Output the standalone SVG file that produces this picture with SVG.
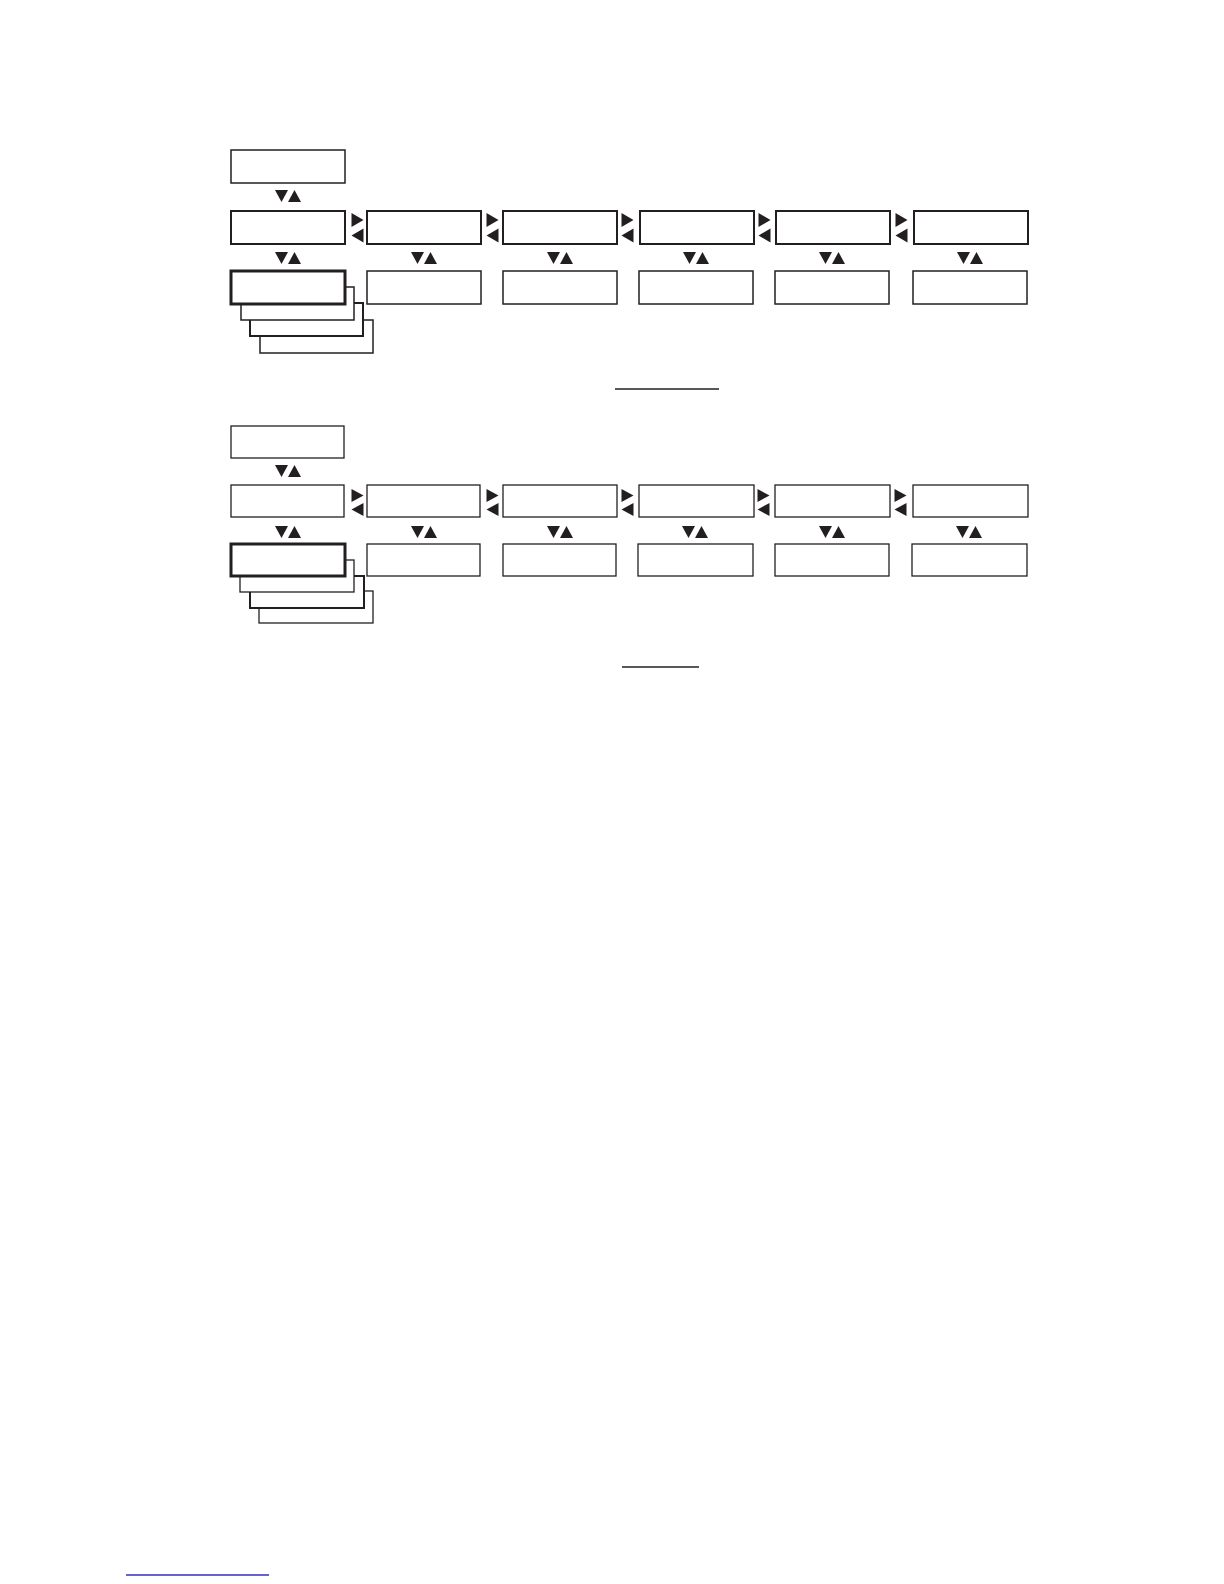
<svg xmlns="http://www.w3.org/2000/svg" xmlns:xlink="http://www.w3.org/1999/xlink" width="1224" height="1584" viewBox="0 0 1224 1584">
<style>
.b{fill:#fff;stroke:#231f20;stroke-width:1.5}
.b2{fill:#fff;stroke:#231f20;stroke-width:2}
.bt{fill:#fff;stroke:#231f20;stroke-width:1.3}
.bold{fill:#fff;stroke:#231f20;stroke-width:3}
.ar{fill:#231f20}
.ul{stroke:#231f20;stroke-width:1.4}
</style>
<defs>
<g id="ud"><polygon points="0,0 13,0 6.5,12"/><polygon points="13,12 26,12 19.5,0"/></g>
<g id="lr"><polygon points="0,0 12,7 0,14"/><polygon points="12,15.5 0,22.5 12,29.5"/></g>
<g id="lr2"><polygon points="0,0 12,6.5 0,13"/><polygon points="12,14 0,20.5 12,27"/></g>
</defs>
<rect width="1224" height="1584" fill="#fff"/>

<!-- Diagram 1 -->
<g id="d1-top"><rect class="b" x="231" y="150" width="114" height="33"/></g>
<g id="d1-r2-1"><rect class="b2" x="231" y="211" width="114" height="33"/></g>
<g id="d1-r2-2"><rect class="b2" x="367" y="211" width="114" height="33"/></g>
<g id="d1-r2-3"><rect class="b2" x="503" y="211" width="114" height="33"/></g>
<g id="d1-r2-4"><rect class="b2" x="640" y="211" width="114" height="33"/></g>
<g id="d1-r2-5"><rect class="b2" x="776" y="211" width="114" height="33"/></g>
<g id="d1-r2-6"><rect class="b2" x="914" y="211" width="114" height="33"/></g>
<g id="d1-stack">
<rect class="b" x="260" y="320" width="113" height="33"/>
<rect class="b2" x="250" y="303" width="113" height="33"/>
<rect class="b" x="241" y="287" width="113" height="33"/>
</g>
<g id="d1-r3-1"><rect class="bold" x="231" y="271" width="114" height="33"/></g>
<g id="d1-r3-2"><rect class="b" x="367" y="271" width="114" height="33"/></g>
<g id="d1-r3-3"><rect class="b" x="503" y="271" width="114" height="33"/></g>
<g id="d1-r3-4"><rect class="b" x="639" y="271" width="114" height="33"/></g>
<g id="d1-r3-5"><rect class="b" x="775" y="271" width="114" height="33"/></g>
<g id="d1-r3-6"><rect class="b" x="913" y="271" width="114" height="33"/></g>

<g id="d1-connectors" class="ar">
<use xlink:href="#ud" x="275" y="190"/>
<use xlink:href="#ud" x="275" y="252"/>
<use xlink:href="#ud" x="411" y="252"/>
<use xlink:href="#ud" x="547" y="252"/>
<use xlink:href="#ud" x="683" y="252"/>
<use xlink:href="#ud" x="819" y="252"/>
<use xlink:href="#ud" x="957" y="252"/>
<use xlink:href="#lr" x="351.5" y="213"/>
<use xlink:href="#lr" x="486.5" y="213"/>
<use xlink:href="#lr" x="621.5" y="213"/>
<use xlink:href="#lr" x="758.5" y="213"/>
<use xlink:href="#lr" x="895.5" y="213"/>
</g>
<line class="ul" x1="615" y1="389" x2="719" y2="389"/>

<!-- Diagram 2 -->
<g id="d2-top"><rect class="bt" x="231" y="426" width="113" height="32"/></g>
<g id="d2-r2-1"><rect class="bt" x="231" y="485" width="113" height="32"/></g>
<g id="d2-r2-2"><rect class="bt" x="367" y="485" width="113" height="32"/></g>
<g id="d2-r2-3"><rect class="bt" x="503" y="485" width="114" height="32"/></g>
<g id="d2-r2-4"><rect class="bt" x="639" y="485" width="115" height="32"/></g>
<g id="d2-r2-5"><rect class="bt" x="775" y="485" width="115" height="32"/></g>
<g id="d2-r2-6"><rect class="bt" x="913" y="485" width="115" height="32"/></g>
<g id="d2-stack">
<rect class="bt" x="259" y="591" width="114" height="32"/>
<rect class="b2" x="250" y="576" width="114" height="32"/>
<rect class="bt" x="240" y="560" width="114" height="32"/>
</g>
<g id="d2-r3-1"><rect class="bold" x="231" y="544" width="114" height="32"/></g>
<g id="d2-r3-2"><rect class="bt" x="367" y="544" width="113" height="32"/></g>
<g id="d2-r3-3"><rect class="bt" x="503" y="544" width="113" height="32"/></g>
<g id="d2-r3-4"><rect class="bt" x="638" y="544" width="115" height="32"/></g>
<g id="d2-r3-5"><rect class="bt" x="775" y="544" width="114" height="32"/></g>
<g id="d2-r3-6"><rect class="bt" x="912" y="544" width="115" height="32"/></g>

<g id="d2-connectors" class="ar">
<use xlink:href="#ud" x="275" y="465"/>
<use xlink:href="#ud" x="275" y="526"/>
<use xlink:href="#ud" x="411" y="526"/>
<use xlink:href="#ud" x="547" y="526"/>
<use xlink:href="#ud" x="682" y="526"/>
<use xlink:href="#ud" x="819" y="526"/>
<use xlink:href="#ud" x="956" y="526"/>
<use xlink:href="#lr2" x="351.5" y="489"/>
<use xlink:href="#lr2" x="486.5" y="489"/>
<use xlink:href="#lr2" x="621.5" y="489"/>
<use xlink:href="#lr2" x="757.5" y="489"/>
<use xlink:href="#lr2" x="894.5" y="489"/>
</g>
<line class="ul" x1="622" y1="667" x2="699" y2="667"/>

<line x1="126" y1="1575" x2="269" y2="1575" stroke="#2f2fc4" stroke-width="1.3"/>
</svg>
